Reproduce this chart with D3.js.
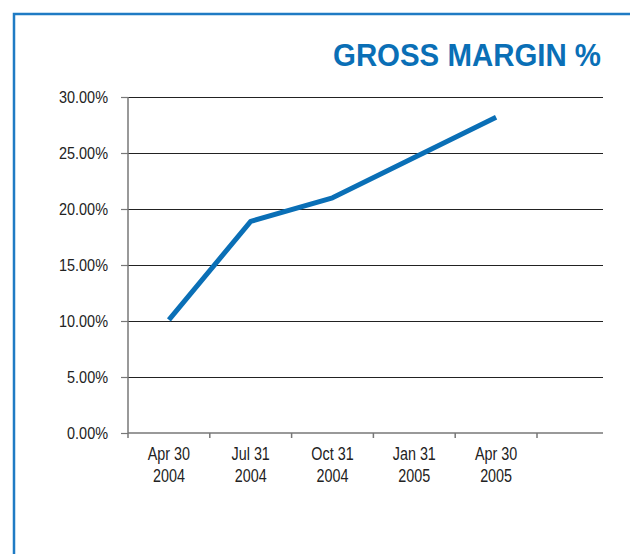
<!DOCTYPE html>
<html><head><meta charset="utf-8">
<script src="https://cdn.jsdelivr.net/npm/d3@7"></script>
<style>html,body{margin:0;padding:0;background:#fff;}svg{display:block;}</style>
</head><body>
<svg id="chart" width="630" height="554"></svg>
<script>
const title = "GROSS MARGIN %";
const categories = [["Apr 30","2004"],["Jul 31","2004"],["Oct 31","2004"],["Jan 31","2005"],["Apr 30","2005"]];
const values = [10.1, 18.9, 21.0, 24.6, 28.2];
const yTicks = [0, 5, 10, 15, 20, 25, 30];

(function(){
const svg = d3.select("#chart");
const blue = "#0a6fb6";
const font = "Arial, 'Liberation Sans', sans-serif";

// frame
svg.append("rect").attr("x",14).attr("y",14).attr("width",700).attr("height",700)
  .attr("fill","none").attr("stroke","#1f7bc4").attr("stroke-width",2.5);

svg.append("text").attr("x",601).attr("y",66).attr("text-anchor","end")
  .attr("font-family",font).attr("font-weight","bold").attr("font-size",31)
  .attr("fill",blue).attr("textLength",268).attr("lengthAdjust","spacingAndGlyphs")
  .text(title);

const pl = 128, pr = 603, pt = 97, pb = 433;
const x = d3.scaleBand().domain(categories.map((d,i)=>i)).range([pl, 537]);
const y = d3.scaleLinear().domain([0,30]).range([pb, pt]);

// gridlines
svg.append("g").selectAll("line").data(yTicks.filter(t=>t>0)).join("line")
  .attr("x1",pl).attr("x2",pr).attr("y1",d=>y(d)).attr("y2",d=>y(d))
  .attr("stroke","#222").attr("stroke-width",1).attr("shape-rendering","crispEdges");

// y axis
const sy = 0.85;
const yAxis = svg.append("g").attr("transform",`translate(${pl},0)`)
  .call(d3.axisLeft(y).tickValues(yTicks).tickFormat(d=>d.toFixed(2)+"%").tickSize(7).tickPadding(13));
yAxis.select(".domain").attr("stroke","#777").attr("stroke-width",1.5).attr("d",`M0,${pt}V${pb+5}`);
yAxis.selectAll(".tick line").attr("stroke","#777").attr("stroke-width",1.2);
yAxis.selectAll(".tick text").attr("font-family",font).attr("font-size",17).attr("fill","#222")
  .attr("x",-20/sy).attr("transform",`scale(${sy},1)`);

// x axis
const sx = 0.82;
const xAxis = svg.append("g").attr("transform",`translate(0,${pb})`)
  .call(d3.axisBottom(x).tickSize(0).tickFormat(""));
xAxis.select(".domain").attr("stroke","#777").attr("stroke-width",1.5).attr("d",`M${pl},0H${pr}`);
xAxis.selectAll(".tick").remove();
const bounds = x.domain().map(d=>x(d)+x.bandwidth());
xAxis.append("g").selectAll("line").data(bounds).join("line")
  .attr("x1",d=>d).attr("x2",d=>d).attr("y1",0).attr("y2",5)
  .attr("stroke","#777").attr("stroke-width",1.5);
const lbl = xAxis.append("g").selectAll("text").data(categories).join("text")
  .attr("transform",(d,i)=>`translate(${x(i)+x.bandwidth()/2},0) scale(${sx},1)`)
  .attr("text-anchor","middle").attr("font-family",font).attr("font-size",17.5).attr("fill","#222");
lbl.append("tspan").attr("x",0).attr("y",27).text(d=>d[0]);
lbl.append("tspan").attr("x",0).attr("y",49).text(d=>d[1]);

// line
const line = d3.line().x((d,i)=>x(i)+x.bandwidth()/2).y(d=>y(d));
svg.append("path").datum(values).attr("d",line)
  .attr("fill","none").attr("stroke",blue).attr("stroke-width",5).attr("stroke-linejoin","round");
})();
</script>
</body></html>
